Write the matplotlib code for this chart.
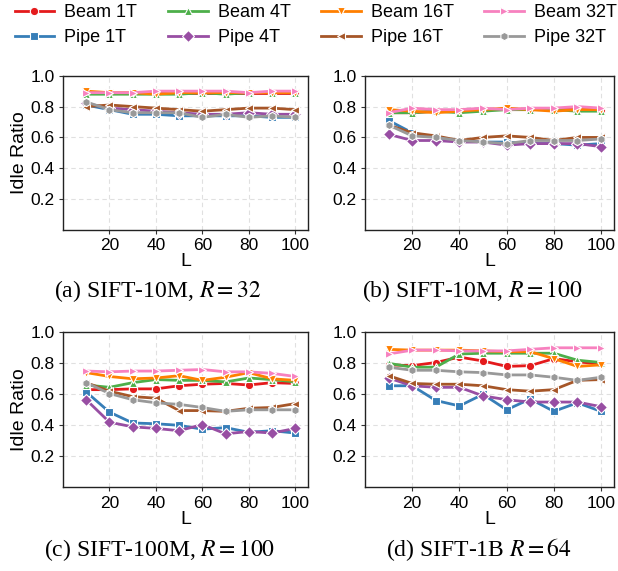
import matplotlib
matplotlib.use("Agg")
import matplotlib.pyplot as plt
import numpy as np

plt.rcParams['font.family'] = ['Liberation Sans', 'DejaVu Sans']
plt.rcParams['mathtext.fontset'] = 'stix'

L = [10, 20, 30, 40, 50, 60, 70, 80, 90, 100]
series_names = ["Beam 1T", "Pipe 1T", "Beam 4T", "Pipe 4T",
                "Beam 16T", "Pipe 16T", "Beam 32T", "Pipe 32T"]
colors = ["#e41a1c", "#377eb8", "#4daf4a", "#984ea3",
          "#ff7f00", "#a65628", "#f781bf", "#999999"]
markers = ["o", "s", "^", "D", "v", "<", ">", "h"]

# (a) SIFT-10M, R=32
a_beam1 = [0.89, 0.89, 0.89, 0.89, 0.89, 0.89, 0.89, 0.89, 0.89, 0.89]
a_pipe1 = [0.81, 0.78, 0.75, 0.75, 0.74, 0.74, 0.74, 0.74, 0.73, 0.73]
a_beam4 = [0.88, 0.88, 0.88, 0.88, 0.88, 0.89, 0.88, 0.89, 0.89, 0.89]
a_pipe4 = [0.82, 0.79, 0.78, 0.77, 0.76, 0.75, 0.75, 0.76, 0.75, 0.75]
a_beam16 = [0.90, 0.89, 0.89, 0.88, 0.89, 0.89, 0.89, 0.89, 0.89, 0.89]
a_pipe16 = [0.80, 0.81, 0.80, 0.79, 0.78, 0.77, 0.78, 0.79, 0.79, 0.78]
a_beam32 = [0.89, 0.89, 0.89, 0.90, 0.90, 0.90, 0.90, 0.89, 0.90, 0.90]
a_pipe32 = [0.83, 0.78, 0.76, 0.76, 0.76, 0.73, 0.75, 0.73, 0.74, 0.73]

# (b) SIFT-10M, R=100
b_beam1 = [0.76, 0.76, 0.77, 0.77, 0.78, 0.78, 0.78, 0.78, 0.78, 0.78]
b_pipe1 = [0.71, 0.63, 0.60, 0.58, 0.57, 0.57, 0.56, 0.56, 0.55, 0.56]
b_beam4 = [0.76, 0.76, 0.77, 0.76, 0.77, 0.78, 0.78, 0.78, 0.77, 0.77]
b_pipe4 = [0.62, 0.58, 0.58, 0.57, 0.57, 0.55, 0.56, 0.56, 0.56, 0.54]
b_beam16 = [0.78, 0.77, 0.76, 0.77, 0.78, 0.79, 0.78, 0.77, 0.78, 0.78]
b_pipe16 = [0.68, 0.63, 0.61, 0.58, 0.60, 0.61, 0.60, 0.58, 0.60, 0.60]
b_beam32 = [0.76, 0.79, 0.78, 0.78, 0.79, 0.78, 0.79, 0.79, 0.80, 0.79]
b_pipe32 = [0.68, 0.61, 0.60, 0.58, 0.57, 0.56, 0.58, 0.58, 0.58, 0.59]

# (c) SIFT-100M, R=100
c_beam1 = [0.63, 0.63, 0.635, 0.635, 0.655, 0.665, 0.67, 0.66, 0.675, 0.67]
c_pipe1 = [0.615, 0.485, 0.415, 0.41, 0.40, 0.375, 0.385, 0.355, 0.365, 0.35]
c_beam4 = [0.66, 0.645, 0.675, 0.695, 0.69, 0.69, 0.68, 0.705, 0.695, 0.68]
c_pipe4 = [0.565, 0.42, 0.39, 0.38, 0.365, 0.405, 0.345, 0.36, 0.35, 0.38]
c_beam16 = [0.74, 0.715, 0.70, 0.705, 0.72, 0.69, 0.71, 0.74, 0.70, 0.69]
c_pipe16 = [0.675, 0.62, 0.585, 0.575, 0.495, 0.495, 0.49, 0.51, 0.515, 0.54]
c_beam32 = [0.75, 0.745, 0.75, 0.75, 0.755, 0.76, 0.745, 0.745, 0.735, 0.715]
c_pipe32 = [0.675, 0.605, 0.565, 0.545, 0.535, 0.515, 0.49, 0.50, 0.50, 0.50]

# (d) SIFT-1B, R=64
d_beam1 = [0.79, 0.785, 0.805, 0.84, 0.815, 0.78, 0.785, 0.83, 0.81, 0.795]
d_pipe1 = [0.655, 0.655, 0.56, 0.525, 0.60, 0.50, 0.57, 0.49, 0.545, 0.49]
d_beam4 = [0.80, 0.775, 0.775, 0.86, 0.865, 0.865, 0.865, 0.865, 0.82, 0.805]
d_pipe4 = [0.705, 0.655, 0.645, 0.645, 0.59, 0.565, 0.55, 0.55, 0.55, 0.52]
d_beam16 = [0.89, 0.885, 0.885, 0.885, 0.88, 0.875, 0.875, 0.83, 0.78, 0.79]
d_pipe16 = [0.72, 0.67, 0.665, 0.665, 0.655, 0.63, 0.62, 0.63, 0.69, 0.695]
d_beam32 = [0.86, 0.885, 0.885, 0.88, 0.88, 0.88, 0.89, 0.90, 0.90, 0.90]
d_pipe32 = [0.775, 0.755, 0.755, 0.745, 0.74, 0.725, 0.725, 0.71, 0.69, 0.71]

panels = [
    [a_beam1, a_pipe1, a_beam4, a_pipe4, a_beam16, a_pipe16, a_beam32, a_pipe32],
    [b_beam1, b_pipe1, b_beam4, b_pipe4, b_beam16, b_pipe16, b_beam32, b_pipe32],
    [c_beam1, c_pipe1, c_beam4, c_pipe4, c_beam16, c_pipe16, c_beam32, c_pipe32],
    [d_beam1, d_pipe1, d_beam4, d_pipe4, d_beam16, d_pipe16, d_beam32, d_pipe32],
]
captions = ["(a) SIFT-10M, $R = 32$", "(b) SIFT-10M, $R = 100$",
            "(c) SIFT-100M, $R = 100$", "(d) SIFT-1B $R = 64$"]
yticks = [0.2, 0.4, 0.6, 0.8, 1.0]
xticks = [20, 40, 60, 80, 100]

W, H = 618, 571
fig = plt.figure(figsize=(W / 100, H / 100), dpi=100)

# axes rectangles in pixels: left, top, right, bottom
rects = [(63, 75.7, 308, 230), (365, 75.7, 614, 230),
         (63, 332.3, 308, 487.3), (365, 332.3, 614, 487.3)]
cap_pos = [(158, 291), (472, 291), (160, 550), (479, 550)]

handles = []
for i, (data, (l, t, r, b)) in enumerate(zip(panels, rects)):
    ax = fig.add_axes([l / W, 1 - b / H, (r - l) / W, (b - t) / H])
    for j, ys in enumerate(data):
        h, = ax.plot(L, ys, color=colors[j], marker=markers[j], lw=2,
                     markersize=6, markeredgecolor='white', markeredgewidth=0.8,
                     label=series_names[j])
        if i == 0:
            handles.append(h)
    ax.set_xlim(0, 105.5)
    ax.set_ylim(0, 1.0)
    ax.set_xticks(xticks)
    ax.set_yticks(yticks)
    ax.tick_params(labelsize=12.5, length=3, width=0.8, color='#333333', pad=3)
    ax.grid(True, linestyle=(0, (4, 3)), color='#e0e0e0', lw=0.8)
    ax.set_axisbelow(True)
    for s in ax.spines.values():
        s.set_color('#222222')
        s.set_linewidth(1.0)
    ax.set_xlabel("L", fontsize=14, labelpad=0)
    if i % 2 == 0:
        ax.set_ylabel("Idle Ratio", fontsize=14, labelpad=2)
    cx, cy = cap_pos[i]
    fig.text(cx / W, 1 - cy / H, captions[i], ha='center', va='center',
             fontsize=17, family='Liberation Serif')

fig.legend(handles=handles, labels=series_names, ncol=4, loc='upper left',
           bbox_to_anchor=(0.012, 1.005), frameon=False, fontsize=13,
           handlelength=2.2, handletextpad=0.55, columnspacing=1.7,
           labelspacing=0.45, borderaxespad=0.0)

fig.savefig("out.png", dpi=100)
